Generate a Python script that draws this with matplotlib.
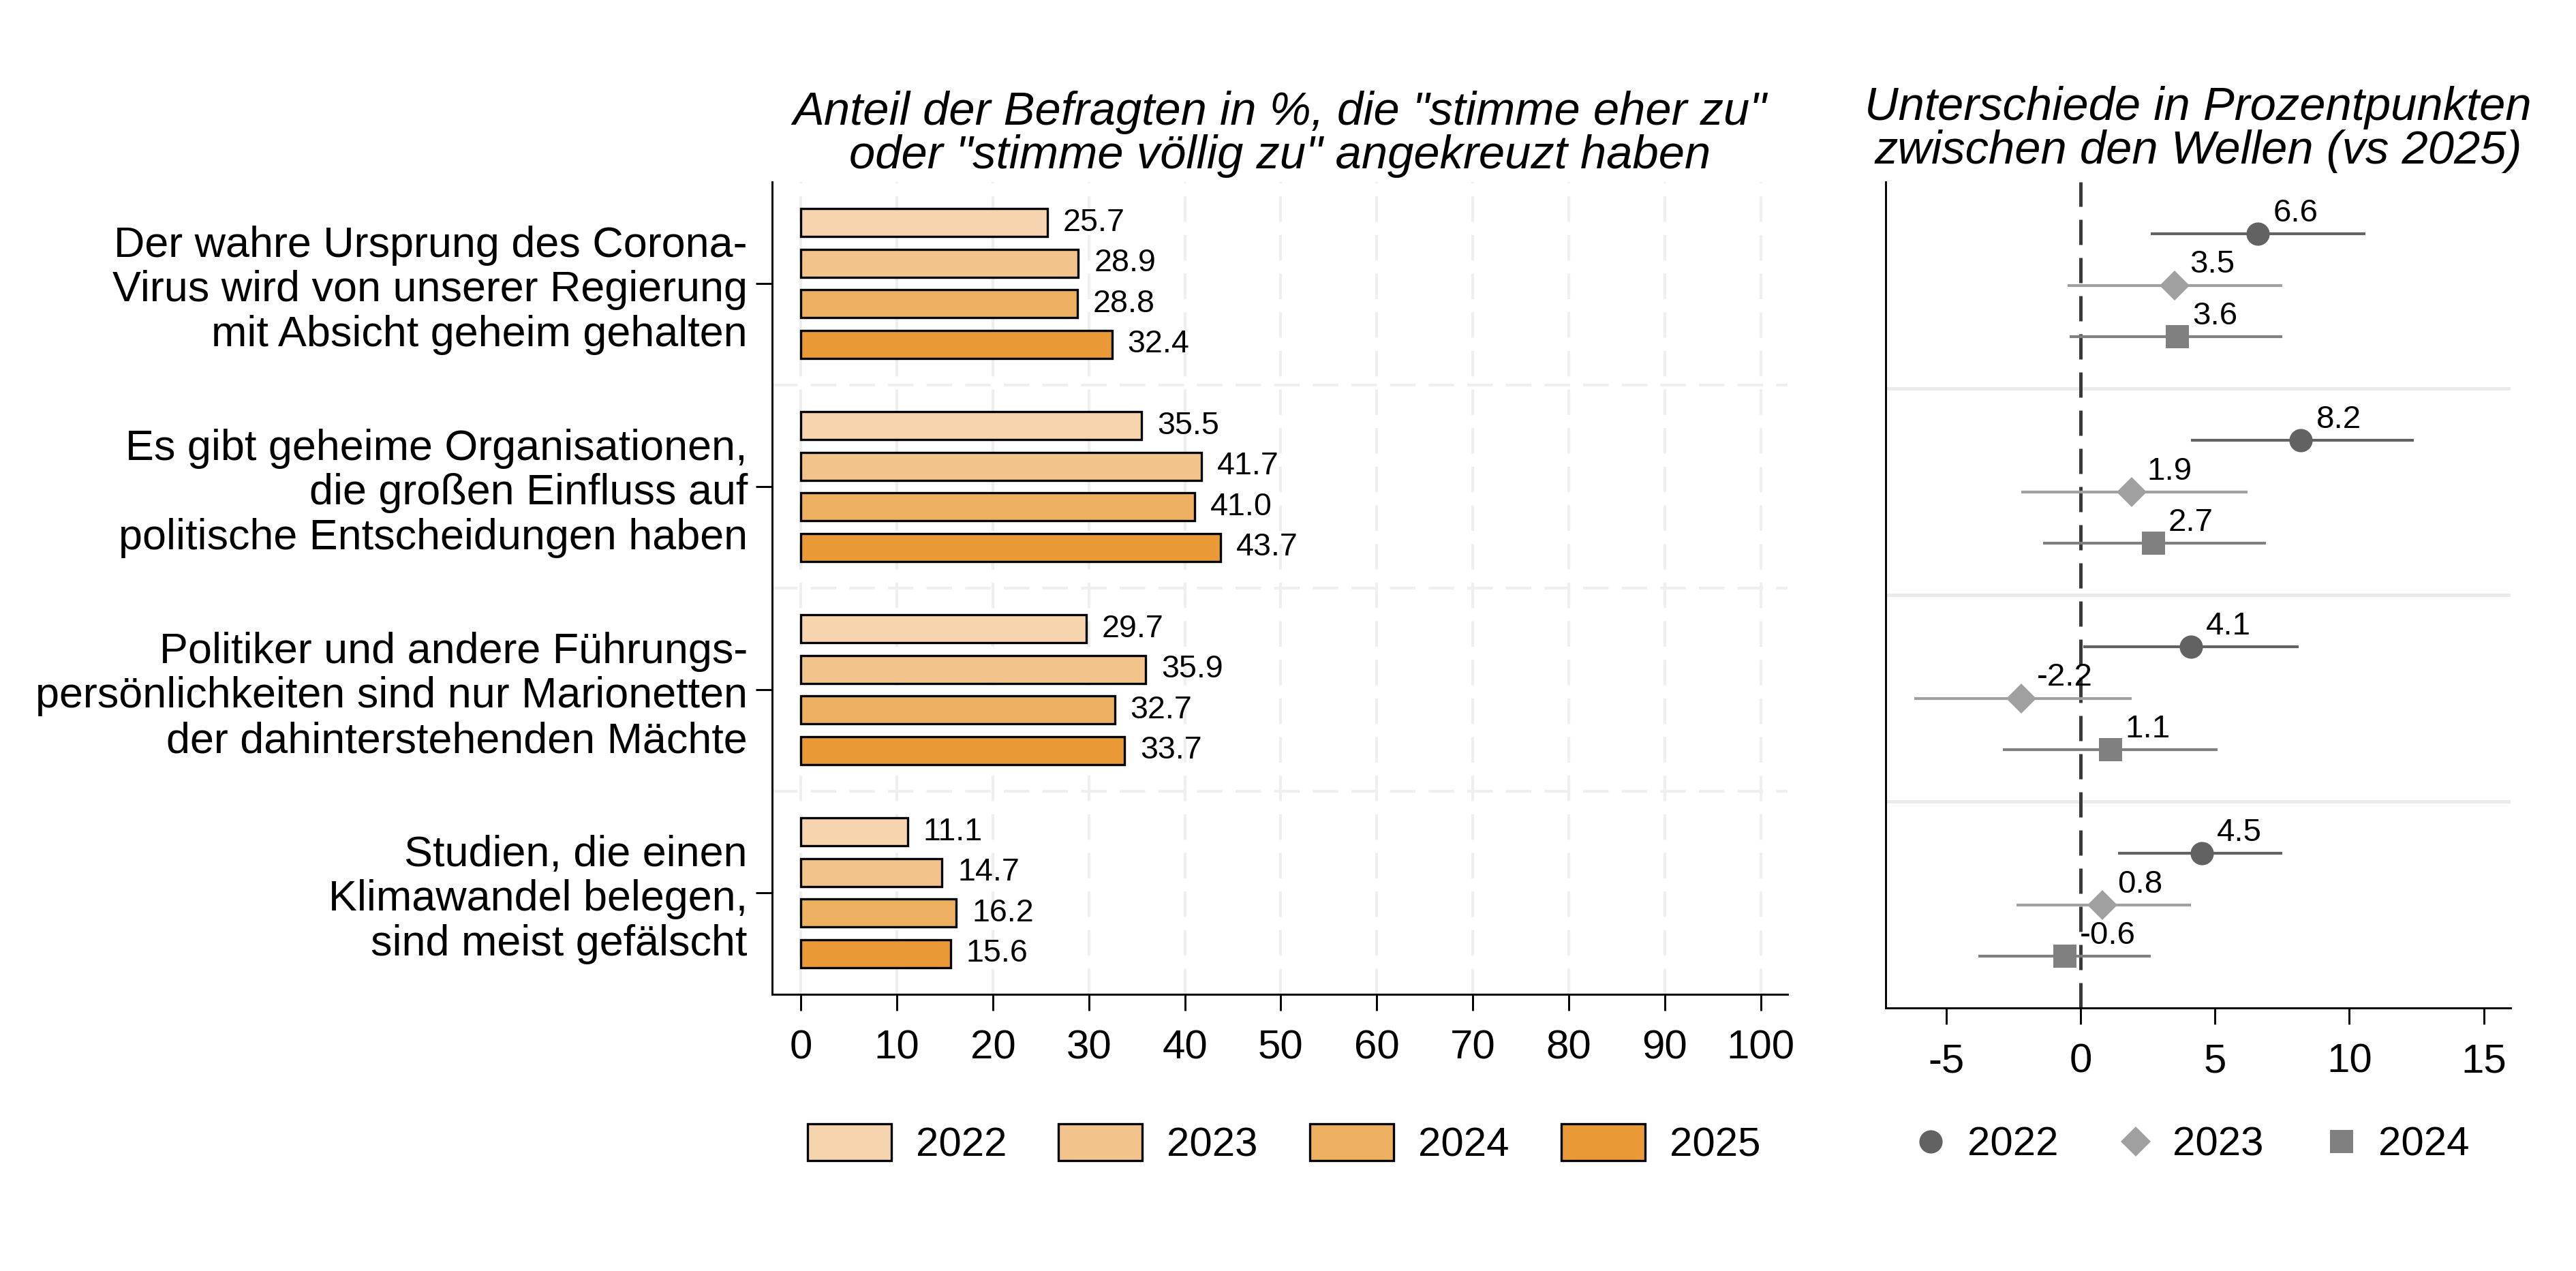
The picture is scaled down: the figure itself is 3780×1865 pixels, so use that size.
import numpy as np
import matplotlib
matplotlib.use('Agg')
import matplotlib.pyplot as plt
from matplotlib.lines import Line2D

plt.rcParams['font.family'] = ['Liberation Sans', 'DejaVu Sans']
plt.rcParams['axes.unicode_minus'] = False

statements = ['Der wahre Ursprung des Corona-\nVirus wird von unserer Regierung\nmit Absicht geheim gehalten',
              'Es gibt geheime Organisationen,\ndie großen Einfluss auf\npolitische Entscheidungen haben',
              'Politiker und andere Führungs-\npersönlichkeiten sind nur Marionetten\nder dahinterstehenden Mächte',
              'Studien, die einen\nKlimawandel belegen,\nsind meist gefälscht']
years = ['2022', '2023', '2024', '2025']

share_2022 = [25.7, 35.5, 29.7, 11.1]
share_2023 = [28.9, 41.7, 35.9, 14.7]
share_2024 = [28.8, 41.0, 32.7, 16.2]
share_2025 = [32.4, 43.7, 33.7, 15.6]

diff_years = ['2022', '2023', '2024']
diff_2022 = [6.6, 8.2, 4.1, 4.5]
diff_2023 = [3.5, 1.9, -2.2, 0.8]
diff_2024 = [3.6, 2.7, 1.1, -0.6]
lo_2022 = [2.6, 4.1, 0.1, 1.4]
hi_2022 = [10.6, 12.4, 8.1, 7.5]
lo_2023 = [-0.5, -2.2, -6.2, -2.4]
hi_2023 = [7.5, 6.2, 1.9, 4.1]
lo_2024 = [-0.4, -1.4, -2.9, -3.8]
hi_2024 = [7.5, 6.9, 5.1, 2.6]

bar_colors = ['#f6d5ae', '#f2c38b', '#edaf60', '#e99a36']
pt_colors = ['#626262', '#a0a0a0', '#808080']
pt_markers = ['o', 'D', 's']
pt_sizes = [8.2, 7.6, 8.2]

grid_col = '#efefef'
dash = (0, (9, 4.6))

fig = plt.figure(figsize=(12.6, 1865 / 300), dpi=300)

# ---- left panel: shares
ax = fig.add_axes([1133 / 3780, 1 - 1459 / 1865, (2623 - 1133) / 3780, (1459 - 267) / 1865])
shares = [share_2022, share_2023, share_2024, share_2025]
n = len(statements)
handles = []
for k, (vals, col, yr) in enumerate(zip(shares, bar_colors, years)):
    pos = np.arange(n) * 5 + k
    b = ax.barh(pos, vals, height=0.69, color=col, edgecolor='black', linewidth=0.8,
                label=yr, zorder=3)
    handles.append(b)
    for p, v in zip(pos, vals):
        ax.annotate('%.1f' % v, (v, p), xytext=(5.5, 0), textcoords='offset points',
                    ha='left', va='center', fontsize=11.2, zorder=4)

for yl in [4, 9, 14]:
    ax.axhline(yl, color=grid_col, linewidth=1.0, linestyle=dash, zorder=1)
ax.set_xticks(np.arange(0, 101, 10))
ax.grid(axis='x', color=grid_col, linewidth=1.0, linestyle=dash, zorder=1)
ax.set_axisbelow(True)
ax.set_xlim(-3, 102.8)
ax.set_ylim(19, -1)
ax.set_yticks(np.arange(n) * 5 + 1.5)
ax.set_yticklabels(statements)
ax.tick_params(axis='both', labelsize=14.4, length=5.8, width=0.7, color='black')
ax.tick_params(axis='y', pad=2.9, labelsize=15.1)
ax.tick_params(axis='x', pad=6.5)
for lab in ax.get_yticklabels():
    lab.set_linespacing(1.15)
for s in ['top', 'right']:
    ax.spines[s].set_visible(False)
for s in ['left', 'bottom']:
    ax.spines[s].set_linewidth(0.7)
ax.set_title('Anteil der Befragten in %, die "stimme eher zu"\noder "stimme völlig zu" angekreuzt haben',
             fontsize=16.5, style='italic', pad=4.8, linespacing=1.0)
ax.legend(handles=handles, loc='center', bbox_to_anchor=(1884 / 3780, 1 - 1679 / 1865),
          bbox_transform=fig.transFigure, ncol=4, frameon=False, fontsize=14.4,
          handlelength=2.05, handleheight=1.0, handletextpad=0.6, columnspacing=1.27)

# ---- right panel: differences
ax2 = fig.add_axes([2767 / 3780, 1 - 1479 / 1865, (3684 - 2767) / 3780, (1479 - 267) / 1865])
diffs = [diff_2022, diff_2023, diff_2024]
los = [lo_2022, lo_2023, lo_2024]
his = [hi_2022, hi_2023, hi_2024]
ax2.axvline(0, color='#3a3a3a', linewidth=1.2, linestyle=(0, (7.4, 3.8)), zorder=2)
for yl in [3, 7, 11]:
    ax2.axhline(yl, color='#eaeaea', linewidth=1.2, zorder=1)
leg2 = []
for k in range(3):
    pos = np.arange(n) * 4 + k
    ax2.hlines(pos, los[k], his[k], color=pt_colors[k], linewidth=1.0, zorder=3)
    ax2.plot(diffs[k], pos, linestyle='none', marker=pt_markers[k], markersize=pt_sizes[k],
             color=pt_colors[k], markeredgewidth=0, zorder=4)
    for p, v in zip(pos, diffs[k]):
        ax2.annotate('%.1f' % v, (v, p), xytext=(5.3, 7.2), textcoords='offset points',
                     ha='left', va='center', fontsize=11.4, zorder=5)
    leg2.append(Line2D([], [], linestyle='none', marker=pt_markers[k], markersize=pt_sizes[k],
                       color=pt_colors[k], markeredgewidth=0, label=diff_years[k]))
ax2.set_xlim(-7.26, 16.0)
ax2.set_ylim(15, -1)
ax2.set_xticks([-5, 0, 5, 10, 15])
ax2.set_yticks([])
ax2.tick_params(axis='x', labelsize=14.4, length=5.8, width=0.7, pad=6.5)
for s in ['top', 'right']:
    ax2.spines[s].set_visible(False)
for s in ['left', 'bottom']:
    ax2.spines[s].set_linewidth(0.7)
ax2.set_title('Unterschiede in Prozentpunkten\nzwischen den Wellen (vs 2025)',
              fontsize=16.5, style='italic', pad=6.5, linespacing=1.0)
ax2.legend(handles=leg2, loc='center', bbox_to_anchor=(3216 / 3780, 1 - 1680 / 1865),
           bbox_transform=fig.transFigure, ncol=3, frameon=False, fontsize=14.4,
           handlelength=0.8, handletextpad=0.5, columnspacing=1.5)

fig.savefig('out.png', dpi=300, facecolor='white')
